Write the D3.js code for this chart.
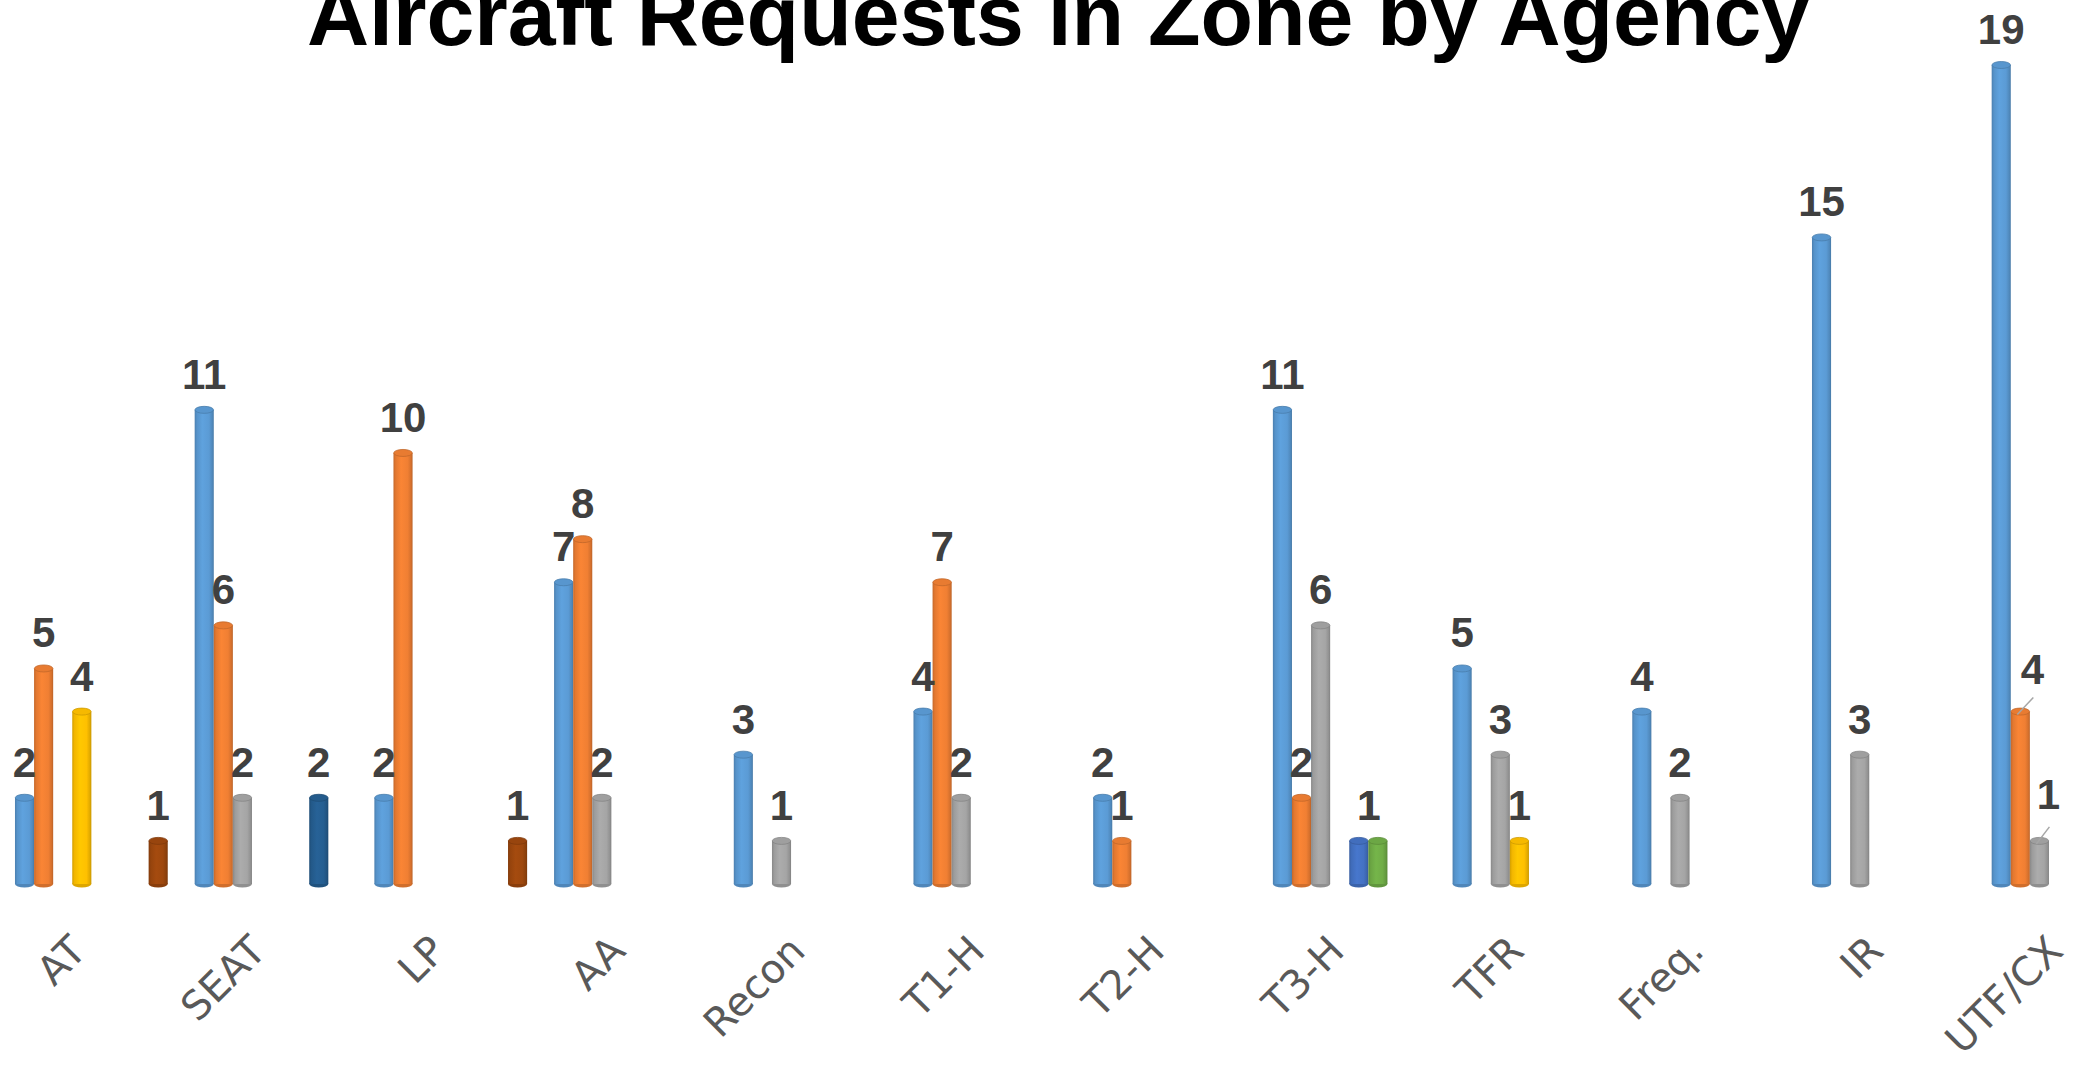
<!DOCTYPE html>
<html>
<head>
<meta charset="utf-8">
<script src="https://cdn.jsdelivr.net/npm/d3@7"></script>
<style>
  html, body { margin: 0; padding: 0; background: #ffffff; overflow: hidden; }
  svg { display: block; }
</style>
</head>
<body>
<svg id="chart" width="2082" height="1069"></svg>
<script>
// ---------------- data ----------------
const categories = ["AT", "SEAT", "LP", "AA", "Recon", "T1-H", "T2-H", "T3-H", "TFR", "Freq.", "IR", "UTF/CX"];
const seriesNames = ["Series 1", "Series 2", "Series 3", "Series 4", "Series 5", "Series 6", "Series 7", "Series 8"];
const series1 = [2, 11, 2, 7, 3, 4, 2, 11, 5, 4, 15, 19];
const series2 = [5, 6, 10, 8, null, 7, 1, 2, null, null, null, 4];
const series3 = [null, 2, null, 2, 1, 2, null, 6, 3, 2, 3, 1];
const series4 = [4, null, null, null, null, null, null, null, 1, null, null, null];
const series5 = [null, null, null, null, null, null, null, 1, null, null, null, null];
const series6 = [null, null, null, null, null, null, null, 1, null, null, null, null];
const series7 = [null, 2, null, null, null, null, null, null, null, null, null, null];
const series8 = [1, null, 1, null, null, null, null, null, null, null, null, null];
const seriesValues = [series1, series2, series3, series4, series5, series6, series7, series8];
const chartTitle = "Aircraft Requests in Zone by Agency";

// ---------------- style ----------------
const colors = ["#5B9BD5", "#F07F33", "#A5A5A5", "#FFC000", "#4472C4", "#70AD47", "#255E91", "#9E480E"];
// label nudges (category|seriesIndex -> [dx, dy]) for labels moved off their default spot
const labelNudges = {
  "UTF/CX|1": [12, -7],
  "UTF/CX|2": [9, -11],
  "T3-H|4": [10, 0],
  "T3-H|5": [-9, 0]
};
const leaderLines = { "UTF/CX|1": true, "UTF/CX|2": true };

const W = 2082, H = 1069;
const svg = d3.select("#chart");
const defs = svg.append("defs");

const x0 = d3.scaleBand().domain(categories).range([1.5, 2157.9]).paddingInner(0.15).paddingOuter(0.075);
const x1 = d3.scaleBand().domain(d3.range(seriesNames.length)).range([0, x0.bandwidth()]).padding(0);
const y = d3.scaleLinear().domain([0, 19]).range([884, 65]);

// gradients for cylinder shading
colors.forEach((c, i) => {
  const base = d3.rgb(c);
  const g = defs.append("linearGradient").attr("id", "grad" + i)
    .attr("x1", "0").attr("x2", "1").attr("y1", "0").attr("y2", "0");
  const stops = [
    [0, base.darker(0.55)],
    [0.12, base.darker(0.15)],
    [0.4, base.brighter(0.12)],
    [0.75, base],
    [0.92, base.darker(0.35)],
    [1, base.darker(0.7)]
  ];
  stops.forEach(s => g.append("stop").attr("offset", s[0]).attr("stop-color", s[1].formatHex()));
});

// flatten data
const bars = [];
categories.forEach((cat, ci) => {
  seriesValues.forEach((vals, si) => {
    const v = vals[ci];
    if (v != null && v > 0) bars.push({ cat, ci, si, v });
  });
});

const bw = x1.bandwidth();
const ry = 3.5;
const barG = svg.append("g").attr("class", "bars");
const bg = barG.selectAll("g.bar").data(bars).join("g").attr("class", "bar");
bg.append("ellipse")
  .attr("cx", d => x0(d.cat) + x1(d.si) + bw / 2)
  .attr("cy", y(0))
  .attr("rx", bw / 2).attr("ry", ry)
  .attr("fill", d => d3.rgb(colors[d.si]).darker(0.4).formatHex());
bg.append("rect")
  .attr("x", d => x0(d.cat) + x1(d.si))
  .attr("y", d => y(d.v))
  .attr("width", bw)
  .attr("height", d => y(0) - y(d.v))
  .attr("fill", d => "url(#grad" + d.si + ")");
bg.append("ellipse")
  .attr("cx", d => x0(d.cat) + x1(d.si) + bw / 2)
  .attr("cy", d => y(d.v))
  .attr("rx", bw / 2 - 0.3).attr("ry", ry)
  .attr("fill", d => d3.rgb(colors[d.si]).darker(0.1).formatHex())
  .attr("stroke", d => d3.rgb(colors[d.si]).darker(0.6).formatHex())
  .attr("stroke-width", 0.8);

// leader lines
const leaderG = svg.append("g");
bars.filter(d => leaderLines[d.cat + "|" + d.si]).forEach(d => {
  const cx = x0(d.cat) + x1(d.si) + bw / 2;
  const n = labelNudges[d.cat + "|" + d.si];
  leaderG.append("line")
    .attr("x1", cx - 3).attr("y1", y(d.v) + 3)
    .attr("x2", cx + n[0] + 1).attr("y2", y(d.v) - 14)
    .attr("stroke", "#A6A6A6").attr("stroke-width", 1.5);
});

// data labels
svg.append("g").selectAll("text").data(bars).join("text")
  .attr("x", d => x0(d.cat) + x1(d.si) + bw / 2 + (labelNudges[d.cat + "|" + d.si] || [0, 0])[0])
  .attr("y", d => y(d.v) - 21 + (labelNudges[d.cat + "|" + d.si] || [0, 0])[1])
  .attr("text-anchor", "middle")
  .attr("font-family", "'Comic Sans MS', 'Liberation Sans', Arial, sans-serif")
  .attr("font-weight", "bold")
  .attr("font-size", 42)
  .attr("fill", "#404040")
  .text(d => d.v);

// category axis
const axis = svg.append("g").attr("transform", `translate(0,${y(0)})`)
  .call(d3.axisBottom(x0).tickSize(0));
axis.select(".domain").remove();
axis.selectAll("text")
  .attr("x", 0).attr("y", 0).attr("dy", 0)
  .attr("transform", "translate(-3,69) rotate(-45)")
  .attr("text-anchor", "end")
  .attr("font-family", "'Comic Sans MS', 'DejaVu Sans', sans-serif")
  .attr("font-size", 40)
  .attr("fill", "#595959");

// title
svg.append("text")
  .attr("x", 1058).attr("y", 45)
  .attr("text-anchor", "middle")
  .attr("font-family", "'Arial Rounded MT Bold', 'Liberation Sans', Arial, sans-serif")
  .attr("font-weight", "bold")
  .attr("font-size", 86)
  .attr("fill", "#000000")
  .text(chartTitle);
</script>
</body>
</html>
